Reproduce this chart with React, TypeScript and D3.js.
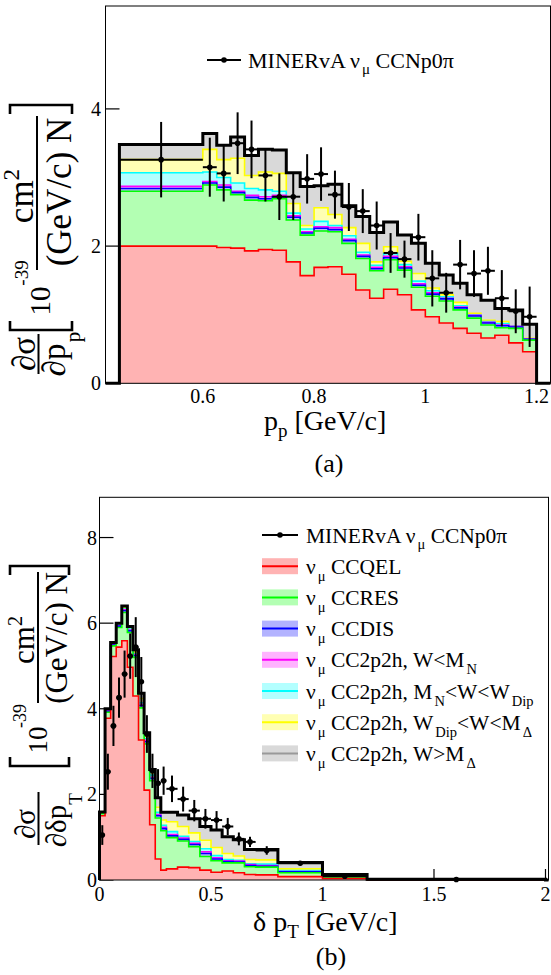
import React from "react";
import * as d3 from "d3";

const FONT = "Liberation Serif";

// ---------------- Panel (a): proton momentum ----------------
const ppEdges = [0.45, 0.6, 0.625, 0.65, 0.675, 0.7, 0.725, 0.75, 0.775, 0.8, 0.825, 0.85, 0.875, 0.9, 0.925, 0.95, 0.975, 1.0, 1.025, 1.05, 1.075, 1.1, 1.125, 1.15, 1.175, 1.2];
// cumulative stack tops (bottom to top)
const ppQEL = [2.0, 2.0, 1.98, 1.97, 1.93, 1.95, 1.94, 1.77, 1.57, 1.69, 1.7, 1.59, 1.36, 1.24, 1.37, 1.29, 1.07, 0.97, 0.88, 0.8, 0.73, 0.66, 0.7, 0.59, 0.46];
const ppRES = [2.8, 2.89, 2.82, 2.75, 2.67, 2.66, 2.69, 2.38, 2.16, 2.22, 2.21, 2.04, 1.82, 1.64, 1.8, 1.65, 1.4, 1.27, 1.2, 1.07, 0.95, 0.85, 0.81, 0.8, 0.63];
const ppDIS = [2.84, 2.92, 2.86, 2.78, 2.71, 2.69, 2.72, 2.42, 2.19, 2.26, 2.24, 2.08, 1.85, 1.67, 1.83, 1.68, 1.43, 1.3, 1.23, 1.1, 0.98, 0.88, 0.84, 0.82, 0.64];
const ppW1 = [2.87, 2.94, 2.89, 2.8, 2.74, 2.72, 2.74, 2.44, 2.21, 2.28, 2.27, 2.1, 1.87, 1.69, 1.85, 1.7, 1.45, 1.32, 1.24, 1.11, 0.99, 0.89, 0.85, 0.83, 0.645];
const ppW2 = [3.07, 3.08, 3.0, 2.92, 2.84, 2.82, 2.8, 2.48, 2.25, 2.36, 2.3, 2.15, 1.91, 1.72, 1.89, 1.73, 1.49, 1.35, 1.26, 1.13, 1.0, 0.9, 0.87, 0.835, 0.65];
const ppW3 = [3.26, 3.41, 3.26, 3.28, 3.03, 3.08, 3.06, 2.62, 2.3, 2.56, 2.46, 2.27, 2.04, 1.77, 1.99, 1.78, 1.6, 1.39, 1.29, 1.18, 1.02, 0.92, 0.9, 0.84, 0.655];
const ppTotal = [3.48, 3.64, 3.47, 3.59, 3.32, 3.41, 3.4, 3.07, 2.87, 2.88, 2.9, 2.59, 2.43, 2.2, 2.35, 2.16, 2.04, 1.75, 1.58, 1.46, 1.29, 1.21, 1.09, 1.07, 0.86];
const ppData = [3.26, 3.15, 3.06, 3.5, 3.41, 3.03, 2.72, 2.72, 2.98, 3.05, 2.75, 2.57, 2.51, 2.3, 1.9, 1.81, 2.13, 1.53, 1.32, 1.73, 1.6, 1.64, 1.24, 1.05, 0.97];
const ppErr = [0.55, 0.43, 0.41, 0.45, 0.42, 0.38, 0.34, 0.34, 0.36, 0.39, 0.35, 0.35, 0.32, 0.35, 0.29, 0.27, 0.34, 0.41, 0.29, 0.36, 0.34, 0.35, 0.41, 0.32, 0.44];
const ppXTicks = [0.6, 0.8, 1.0, 1.2];
const ppYTicks = [0, 2, 4];

// ---------------- Panel (b): delta pT ----------------
const ptEdges = [0, 0.025, 0.05, 0.075, 0.1, 0.125, 0.15, 0.175, 0.2, 0.225, 0.25, 0.275, 0.3, 0.35, 0.4, 0.45, 0.5, 0.55, 0.6, 0.65, 0.7, 0.8, 1.0, 1.2, 2.0];
const ptQEL = [1.5, 3.78, 5.22, 5.44, 5.59, 4.97, 4.3, 3.27, 2.1, 1.29, 0.49, 0.23, 0.26, 0.3, 0.29, 0.23, 0.18, 0.21, 0.17, 0.13, 0.12, 0.08, 0.035, 0.004];
const ptRES = [1.55, 3.92, 5.47, 5.9, 6.25, 5.78, 5.2, 4.02, 3.18, 2.32, 1.45, 1.15, 0.99, 0.91, 0.78, 0.55, 0.45, 0.4, 0.4, 0.31, 0.3, 0.17, 0.07, 0.01];
const ptDIS = [1.56, 3.94, 5.49, 5.93, 6.29, 5.82, 5.24, 4.07, 3.23, 2.37, 1.5, 1.2, 1.03, 0.95, 0.83, 0.62, 0.49, 0.43, 0.42, 0.34, 0.32, 0.19, 0.1, 0.011];
const ptW1 = [1.565, 3.95, 5.5, 5.94, 6.31, 5.84, 5.26, 4.1, 3.26, 2.4, 1.53, 1.23, 1.06, 0.98, 0.86, 0.66, 0.52, 0.45, 0.44, 0.36, 0.34, 0.2, 0.105, 0.012];
const ptW2 = [1.57, 3.96, 5.51, 5.95, 6.33, 5.86, 5.28, 4.14, 3.3, 2.45, 1.58, 1.28, 1.13, 1.02, 0.9, 0.73, 0.57, 0.48, 0.46, 0.38, 0.37, 0.22, 0.11, 0.013];
const ptW3 = [1.58, 3.98, 5.53, 5.97, 6.36, 5.89, 5.33, 4.24, 3.36, 2.5, 1.7, 1.4, 1.36, 1.25, 1.1, 0.93, 0.76, 0.62, 0.56, 0.48, 0.47, 0.26, 0.12, 0.014];
const ptTotal = [1.59, 4.0, 5.55, 6.0, 6.4, 5.92, 5.38, 4.36, 3.44, 2.58, 1.92, 1.58, 1.58, 1.52, 1.43, 1.25, 1.17, 1.01, 0.94, 0.71, 0.71, 0.41, 0.13, 0.015];
const ptData = [1.05, 2.53, 3.6, 4.26, 4.81, 5.23, 5.44, 4.63, 3.41, 2.55, 2.26, 2.32, 2.13, 1.89, 1.62, 1.43, 1.4, 1.25, 0.96, 0.89, 0.69, 0.39, 0.09, 0.01];
const ptErr = [0.23, 0.42, 0.47, 0.47, 0.55, 0.53, 0.7, 0.58, 0.44, 0.4, 0.33, 0.33, 0.31, 0.29, 0.25, 0.23, 0.21, 0.2, 0.15, 0.12, 0.1, 0.05, 0.03, 0.01];
const ptXTicks = [0, 0.5, 1, 1.5, 2];
const ptYTicks = [0, 2, 4, 6, 8];

// layer styles: QEL, RES, DIS, 2p2h W<MN, MN<W<WDip, WDip<W<MDelta, W>MDelta
const layerFill = ["#ffb3b3", "#b3ffb3", "#b3b3ff", "#ffb3ff", "#b3ffff", "#ffffb3", "#d9d9d9"];
const layerLine = ["#ff0000", "#00ff00", "#0000ff", "#ff00ff", "#00ffff", "#ffff00", "#999999"];

type Seg = { t: string; sub?: boolean };
const legendLabels: Seg[][] = [
  [{ t: "ν" }, { t: "μ", sub: true }, { t: " CCQEL" }],
  [{ t: "ν" }, { t: "μ", sub: true }, { t: " CCRES" }],
  [{ t: "ν" }, { t: "μ", sub: true }, { t: " CCDIS" }],
  [{ t: "ν" }, { t: "μ", sub: true }, { t: " CC2p2h, W<M" }, { t: "N", sub: true }],
  [{ t: "ν" }, { t: "μ", sub: true }, { t: " CC2p2h, M" }, { t: "N", sub: true }, { t: "<W<W" }, { t: "Dip", sub: true }],
  [{ t: "ν" }, { t: "μ", sub: true }, { t: " CC2p2h, W" }, { t: "Dip", sub: true }, { t: "<W<M" }, { t: "Δ", sub: true }],
  [{ t: "ν" }, { t: "μ", sub: true }, { t: " CC2p2h, W>M" }, { t: "Δ", sub: true }],
];
const dataLabel: Seg[] = [{ t: "MINERvA " }, { t: "ν" }, { t: "μ", sub: true }, { t: " CCNp0π" }];

function Rich({ segs, x, y, size, subSize, subDy }: { segs: Seg[]; x: number; y: number; size: number; subSize: number; subDy: number }) {
  let shifted = false;
  const parts = segs.map((s, i) => {
    let dy = 0;
    if (s.sub && !shifted) { dy = subDy; shifted = true; }
    else if (!s.sub && shifted) { dy = -subDy; shifted = false; }
    return (
      <tspan key={i} dy={dy} dx={s.sub ? 2 : 0} fontSize={s.sub ? subSize : size}>{s.t}</tspan>
    );
  });
  return <text x={x} y={y} fontFamily={FONT} fontSize={size} fill="#000">{parts}</text>;
}

function stepPts(edges: number[], vals: number[]): [number, number][] {
  const pts: [number, number][] = [[edges[0], 0]];
  vals.forEach((v, i) => pts.push([edges[i], v]));
  pts.push([edges[edges.length - 1], vals[vals.length - 1]]);
  pts.push([edges[edges.length - 1], 0]);
  return pts;
}

type PanelProps = {
  edges: number[];
  layers: number[][];
  total: number[];
  data: number[];
  err: number[];
  xDomain: [number, number];
  xRange: [number, number];
  yDomain: [number, number];
  yRange: [number, number];
  xTicks: number[];
  yTicks: number[];
  yLabelX: number;
  xLabelY: number;
};

function Panel(p: PanelProps) {
  const x = d3.scaleLinear().domain(p.xDomain).range(p.xRange);
  const y = d3.scaleLinear().domain(p.yDomain).range(p.yRange);
  const area = d3.area<[number, number]>().x((d) => x(d[0])).y0(y(0)).y1((d) => y(d[1])).curve(d3.curveStepAfter);
  const line = d3.line<[number, number]>().x((d) => x(d[0])).y((d) => y(d[1])).curve(d3.curveStepAfter);
  const order = [6, 5, 4, 3, 2, 1, 0];
  const totPts: [number, number][] = [[p.xDomain[0], 0], ...stepPts(p.edges, p.total), [p.xDomain[1], 0]];
  const fmt = (v: number) => String(+v.toFixed(2));
  const [x0, x1] = p.xRange;
  const [yb, yt] = p.yRange;
  return (
    <g>
      <rect x={x0} y={yt} width={x1 - x0} height={yb - yt} fill="#fff" />
      {p.xTicks.map((t) => (
        <line key={"xt" + t} x1={x(t)} x2={x(t)} y1={yb} y2={yb - 11} stroke="#000" strokeWidth={1.2} />
      ))}
      {p.yTicks.map((t) => (
        <line key={"yt" + t} x1={x0} x2={x0 + 14} y1={y(t)} y2={y(t)} stroke="#000" strokeWidth={1.2} />
      ))}
      {order.map((k) => (
        <g key={"l" + k}>
          <path d={area(stepPts(p.edges, p.layers[k])) || ""} fill={layerFill[k]} />
          <path d={line(stepPts(p.edges, p.layers[k])) || ""} fill="none" stroke={layerLine[k]} strokeWidth={1.6} />
        </g>
      ))}
      <path d={line(totPts) || ""} fill="none" stroke="#000" strokeWidth={3} strokeLinejoin="miter" />
      {p.data.map((v, i) => {
        const cx = x((p.edges[i] + p.edges[i + 1]) / 2);
        return (
          <g key={"d" + i}>
            <line x1={cx} x2={cx} y1={y(v - p.err[i])} y2={y(v + p.err[i])} stroke="#000" strokeWidth={2} />
            <line x1={x(p.edges[i])} x2={x(p.edges[i + 1])} y1={y(v)} y2={y(v)} stroke="#000" strokeWidth={2} />
            <circle cx={cx} cy={y(v)} r={2.8} fill="#000" />
          </g>
        );
      })}
      <rect x={x0} y={yt} width={x1 - x0} height={yb - yt} fill="none" stroke="#000" strokeWidth={1} />
      {p.yTicks.map((t) => (
        <text key={"yl" + t} x={p.yLabelX} y={y(t) + 7} textAnchor="end" fontFamily={FONT} fontSize={20}>{fmt(t)}</text>
      ))}
      {p.xTicks.map((t) => (
        <text key={"xl" + t} x={x(t)} y={p.xLabelY} textAnchor="middle" fontFamily={FONT} fontSize={20}>{fmt(t)}</text>
      ))}
    </g>
  );
}

function RotText({ x, y, size, children, anchor = "middle" }: { x: number; y: number; size: number; children: React.ReactNode; anchor?: string }) {
  return (
    <text transform={`translate(${x},${y}) rotate(-90)`} textAnchor={anchor} fontFamily={FONT} fontSize={size} fill="#000">
      {children}
    </text>
  );
}

function Bracket({ y, dir, x0 = 10, x1 = 72, len = 9 }: { y: number; dir: number; x0?: number; x1?: number; len?: number }) {
  return (
    <path d={`M${x0},${y + dir * len} L${x0},${y} L${x1},${y} L${x1},${y + dir * len}`} fill="none" stroke="#000" strokeWidth={2.6} />
  );
}

export default function App() {
  const layersA = [ppQEL, ppRES, ppDIS, ppW1, ppW2, ppW3, ppTotal];
  const layersB = [ptQEL, ptRES, ptDIS, ptW1, ptW2, ptW3, ptTotal];
  const legY0 = 535;
  const legDy = 31.2;
  return (
    <svg width={551} height={975} style={{ position: "absolute", left: 0, top: 0, background: "#fff" }}>
      <style>{`text, tspan { font-family: "Liberation Serif", "Times New Roman", Times, serif !important; }`}</style>
      {/* ---------- Panel (a) ---------- */}
      <Panel
        edges={ppEdges}
        layers={layersA}
        total={ppTotal}
        data={ppData}
        err={ppErr}
        xDomain={[0.425, 1.225]}
        xRange={[105.5, 550.5]}
        yDomain={[0, 5.5]}
        yRange={[383.3, 6]}
        xTicks={ppXTicks}
        yTicks={ppYTicks}
        yLabelX={101}
        xLabelY={403}
      />
      {/* legend (a) */}
      <line x1={207} x2={241} y1={60} y2={60} stroke="#000" strokeWidth={2} />
      <circle cx={224} cy={60} r={2.8} fill="#000" />
      <Rich segs={dataLabel} x={248} y={68} size={22} subSize={15} subDy={6} />
      {/* x title (a) */}
      <text x={264} y={430} fontFamily={FONT} fontSize={28}>
        p<tspan dy={7} fontSize={19}>p</tspan><tspan dy={-7} fontSize={28}> [GeV/c]</tspan>
      </text>
      <text x={329} y={472} textAnchor="middle" fontFamily={FONT} fontSize={26}>(a)</text>
      {/* y title (a) */}
      <Bracket y={105} dir={1} />
      <RotText x={71} y={192} size={35}>(GeV/c) N</RotText>
      <line x1={37} x2={37} y1={116} y2={270} stroke="#000" strokeWidth={2} />
      <RotText x={33} y={196} size={35}>cm<tspan dy={-14} fontSize={23}>2</tspan></RotText>
      <RotText x={28} y={273} size={19}>-39</RotText>
      <RotText x={50} y={301} size={29}>10</RotText>
      <Bracket y={330} dir={-1} />
      <RotText x={35} y={354} size={33}>∂σ</RotText>
      <line x1={38.5} x2={38.5} y1={334} y2={374} stroke="#000" strokeWidth={2} />
      <RotText x={65} y={360} size={33}>∂p</RotText>
      <RotText x={80} y={337} size={21}>p</RotText>

      {/* ---------- Panel (b) ---------- */}
      <Panel
        edges={ptEdges}
        layers={layersB}
        total={ptTotal}
        data={ptData}
        err={ptErr}
        xDomain={[0, 2.0135]}
        xRange={[99.5, 548.5]}
        yDomain={[0, 8.94]}
        yRange={[880, 497.3]}
        xTicks={ptXTicks}
        yTicks={ptYTicks}
        yLabelX={97}
        xLabelY={901}
      />
      {/* legend (b) */}
      <line x1={262} x2={298} y1={legY0} y2={legY0} stroke="#000" strokeWidth={2} />
      <circle cx={280} cy={legY0} r={2.8} fill="#000" />
      <Rich segs={dataLabel} x={306} y={legY0 + 7.5} size={21.5} subSize={14.5} subDy={6} />
      {legendLabels.map((segs, i) => {
        const cy = legY0 + legDy * (i + 1);
        return (
          <g key={"leg" + i}>
            <rect x={262} y={cy - 8} width={36} height={16} fill={layerFill[i]} />
            <line x1={262} x2={298} y1={cy} y2={cy} stroke={layerLine[i]} strokeWidth={2} />
            <Rich segs={segs} x={306} y={cy + 7.5} size={21.5} subSize={14.5} subDy={7} />
          </g>
        );
      })}
      {/* x title (b) */}
      <text x={253} y={931} fontFamily={FONT} fontSize={28}>
        δ p<tspan dy={7} fontSize={19}>T</tspan><tspan dy={-7} fontSize={28}> [GeV/c]</tspan>
      </text>
      <text x={331} y={965} textAnchor="middle" fontFamily={FONT} fontSize={26}>(b)</text>
      {/* y title (b) */}
      <Bracket y={566} dir={1} x1={69} />
      <RotText x={67} y={638} size={31}>(GeV/c) N</RotText>
      <line x1={38} x2={38} y1={572} y2={703} stroke="#000" strokeWidth={2} />
      <RotText x={34} y={640} size={31}>cm<tspan dy={-12} fontSize={20}>2</tspan></RotText>
      <RotText x={26} y={716} size={18}>-39</RotText>
      <RotText x={47} y={740} size={27}>10</RotText>
      <Bracket y={766} dir={-1} x1={69} />
      <RotText x={35} y={824} size={29}>∂σ</RotText>
      <line x1={38.5} x2={38.5} y1={792} y2={845} stroke="#000" strokeWidth={2} />
      <RotText x={66} y={826} size={29}>∂δp</RotText>
      <RotText x={82} y={799} size={19}>T</RotText>
    </svg>
  );
}
